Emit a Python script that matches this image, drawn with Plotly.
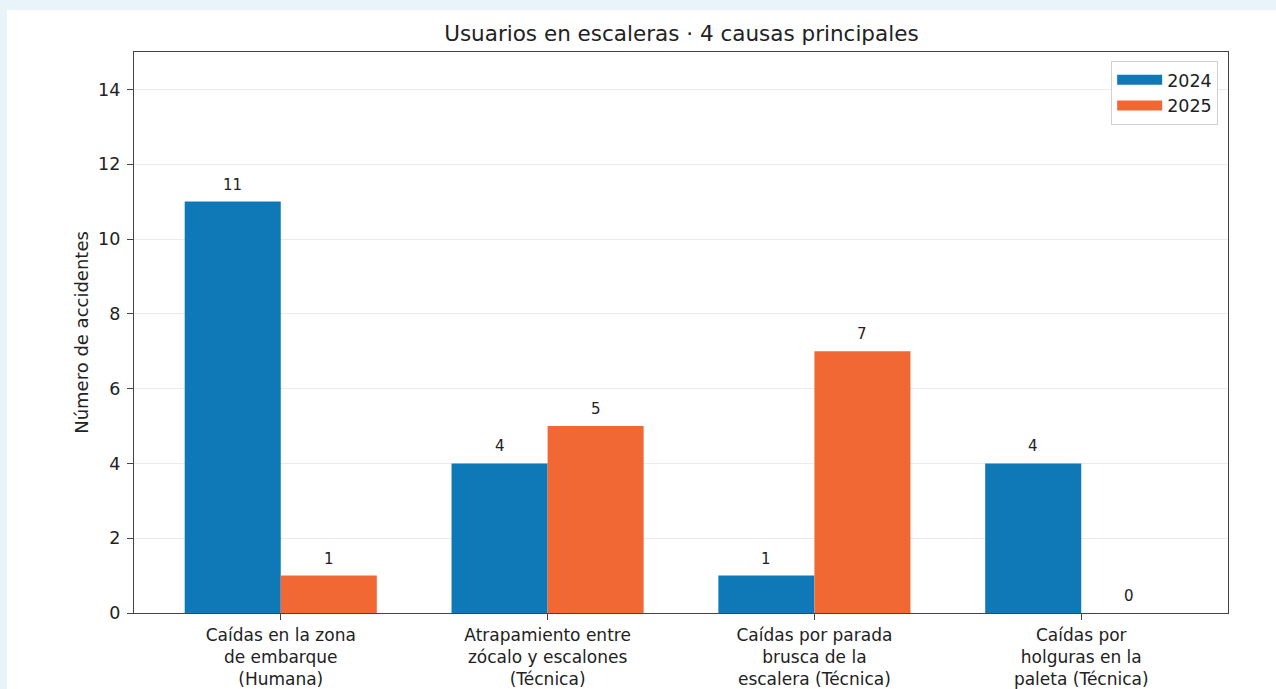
import plotly.graph_objects as go

causas = [
    "Caídas en la zona<br>de embarque<br>(Humana)",
    "Atrapamiento entre<br>zócalo y escalones<br>(Técnica)",
    "Caídas por parada<br>brusca de la<br>escalera (Técnica)",
    "Caídas por<br>holguras en la<br>paleta (Técnica)",
]
años = ["2024", "2025"]
valores_2024 = [11, 4, 1, 4]
valores_2025 = [1, 5, 7, 0]
colores = ["#0f79b8", "#f26835"]

ancho = 0.36
idx = list(range(len(causas)))

fig = go.Figure()
for serie, vals, color, off in [(años[0], valores_2024, colores[0], -ancho),
                               (años[1], valores_2025, colores[1], 0)]:
    fig.add_trace(go.Bar(
        x=idx, y=vals, name=serie, width=ancho, offset=off,
        marker=dict(color=color, line=dict(width=0)), showlegend=False,
    ))
    # entrada de leyenda con rectángulo ancho, como en matplotlib
    fig.add_trace(go.Scatter(
        x=[None], y=[None], mode="lines", name=serie, legendgroup=serie,
        line=dict(color=color, width=12),
    ))
    for i, v in zip(idx, vals):
        fig.add_annotation(
            x=i + off + ancho / 2, y=v, text=str(v), showarrow=False,
            yanchor="bottom", yshift=6, font=dict(size=15, color="#222"),
        )

fig.update_layout(
    width=1276, height=689,
    margin=dict(l=134, r=48, t=52, b=76),
    paper_bgcolor="#e9f3fa", plot_bgcolor="white",
    font=dict(family="DejaVu Sans", size=17.5, color="#222"),
    title=dict(text="Usuarios en escaleras · 4 causas principales", x=0.534, xanchor="center",
               y=0.952, yanchor="middle", font=dict(size=21.5)),
    showlegend=True,
    legend=dict(x=0.991, y=0.984, xanchor="right", yanchor="top", bgcolor="white",
                bordercolor="#d0d0d0", borderwidth=1, font=dict(size=17.5),
                tracegroupgap=0, itemwidth=45),
    shapes=[dict(type="rect", xref="paper", yref="paper", x0=-0.1161, x1=1.1,
                 y0=-0.2, y1=1.0749, fillcolor="white", line=dict(width=0), layer="below")],
)
fig.update_xaxes(
    range=[-0.55, 3.55], tickmode="array", tickvals=idx, ticktext=causas,
    showgrid=False, showline=True, linecolor="#444", linewidth=1.3, mirror=True,
    ticks="outside", ticklen=6, tickcolor="#444", tickfont=dict(size=17),
    zeroline=False, automargin=False,
)
fig.update_yaxes(
    range=[0, 15], tickvals=[0, 2, 4, 6, 8, 10, 12, 14],
    showgrid=True, gridcolor="#ebebeb", gridwidth=1,
    showline=True, linecolor="#444", linewidth=1.3, mirror=True,
    ticks="outside", ticklen=6, tickcolor="#444", tickfont=dict(size=17.5),
    ticklabelstandoff=3,
    title=dict(text="Número de accidentes", font=dict(size=18), standoff=4),
    zeroline=False, automargin=False,
)

fig.write_html("out.html", config={"displayModeBar": False},
               post_script="document.body.style.margin='0';")
